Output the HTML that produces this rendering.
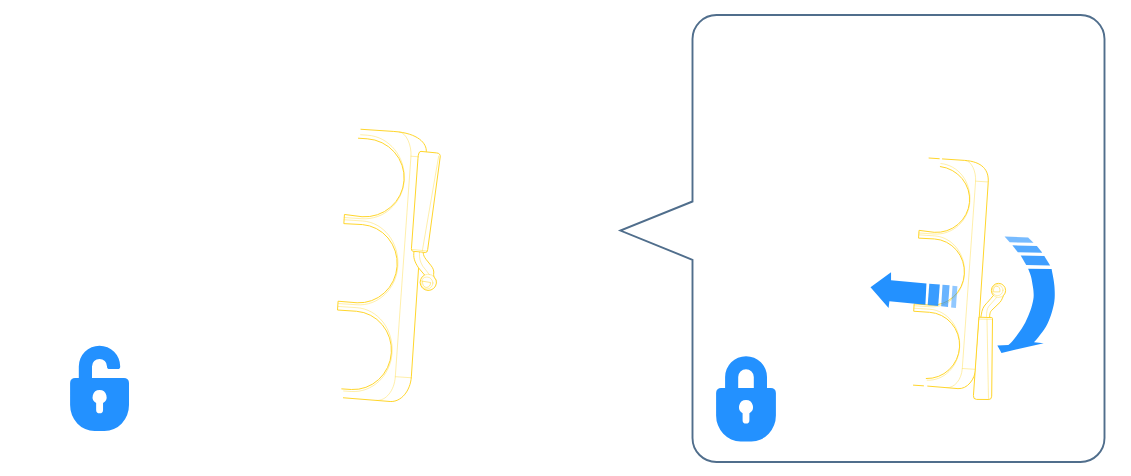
<!DOCTYPE html>
<html><head><meta charset="utf-8"><title>Lock illustration</title>
<style>
html,body{margin:0;padding:0;background:#fff;overflow:hidden}
svg{display:block}
</style></head>
<body>
<svg width="1131" height="476" viewBox="0 0 1131 476">
<rect width="1131" height="476" fill="#fff"/>

<!-- callout -->
<path d="M716.5,15.05 H1080.5 A24,24 0 0 1 1104.5,39.05 V438 A24,24 0 0 1 1080.5,462 H716.5 A24,24 0 0 1 692.5,438 V259.8 L620.4,230.6 L692.5,201.5 V39.05 A24,24 0 0 1 716.5,15.05 Z" fill="none" stroke="#506E8C" stroke-width="1.9" stroke-linejoin="miter"/>

<!-- open lock -->
<g fill="#2391FF">
<path d="M78.8,380 V366.4 A20.7,20.7 0 0 1 120.2,366.4 A2.6,2.6 0 0 1 117.6,369 H109.6 A2.6,2.6 0 0 1 107,366.4 A7.5,7.5 0 0 0 92,366.4 V380 Z"/>
<path fill-rule="evenodd" d="M75.1,377.9 H124 A5,5 0 0 1 129,382.9 V405 A24.5,26 0 0 1 104.5,431 H94.6 A24.5,26 0 0 1 70.1,405 V382.9 A5,5 0 0 1 75.1,377.9 Z
M99.6,390.1 A6.95,6.95 0 0 0 96.15,403.1 V409.9 A3.45,3.45 0 0 0 103.05,409.9 V403.1 A6.95,6.95 0 0 0 99.6,390.1 Z"/>
</g>

<!-- closed lock -->
<g fill="#2391FF">
<path d="M725.1,390 V377.1 A20.95,20.95 0 0 1 767,377.1 V390 H753.8 V377.1 A7.8,7.8 0 0 0 738.2,377.1 V390 Z"/>
<path fill-rule="evenodd" d="M721.1,387.9 H770.9 A5,5 0 0 1 775.9,392.9 V415.4 A24.5,26 0 0 1 751.4,441.4 H740.6 A24.5,26 0 0 1 716.1,415.4 V392.9 A5,5 0 0 1 721.1,387.9 Z
M746,400.1 A7,7 0 0 0 742.6,413.2 V420.2 A3.4,3.4 0 0 0 749.4,420.2 V413.2 A7,7 0 0 0 746,400.1 Z"/>
</g>

<!-- left clip -->
<g fill="none" stroke="#FFD62C" stroke-width="1.0" stroke-linecap="round" stroke-linejoin="round">
<path d="M360.93,129.27 L393.76,131.45 C418.38,133.08 426.83,143.56 426.30,151.65 L411.34,376.85 C410.39,391.18 400.90,402.21 390.16,401.50 L343.40,397.79"/>
<path d="M358.44,138.22 L367.22,138.80 A39.50,39.05 3.80 0 1 362.04,216.73 L344.45,214.46 L343.84,223.64 L362.32,224.57 A38.00,39.20 3.80 0 1 357.13,302.79 L338.09,301.23 L337.50,310.01 L356.56,311.28 A38.00,39.20 3.80 0 1 351.37,389.50 L341.79,388.87"/>
<g stroke-width="0.5" opacity="0.8">
<path d="M398.85,131.78 C406.40,132.29 411.68,145.38 410.96,156.24 L395.31,376.69 C394.40,390.42 386.07,401.05 376.70,400.43"/>
<path d="M410.96,156.24 L425.92,157.23"/>
<path d="M395.31,376.69 L411.28,377.75"/>
<path d="M360.67,134.76 L367.46,135.21 C389.33,136.66 405.80,156.89 404.24,180.40 C402.74,203.02 383.79,220.18 361.91,218.73 L344.25,217.55"/>
<path d="M344.10,219.75 L362.56,220.97 C383.61,222.37 399.41,242.63 397.84,266.21 C396.33,288.92 378.04,306.19 356.99,304.79 L338.53,303.56"/>
<path d="M338.34,306.46 L356.80,307.68 C377.85,309.08 393.65,329.33 392.08,352.92 C390.57,375.63 372.29,392.90 351.23,391.50 L343.65,391.00"/>
</g>
<!-- lever -->
<path d="M418,158 Q418.4,151.2 421,151.4 L436.5,152.9 Q440.7,153.3 440.2,157 L427.7,249.5 Q427.3,252.8 425.4,252.5 L413,251.3 Q411.2,251.1 411.4,249 Z" fill="#fff"/>
<g stroke-width="0.5" opacity="0.8"><path d="M438.7,156 L422.3,251"/><path d="M411.8,249.4 L427.2,251"/></g>
<!-- linkage -->
<path d="M413.9,252.2 C413.3,257 414,261 418.5,267.8 L424.6,275 A8.15,8.15 0 1 0 436.1,280 C434.5,278 433.6,276.5 433.6,274.6 C434.3,271 433.2,268.4 431.2,265.8 L426,259.3 C424.3,257 423.5,255.5 423.2,253.1" fill="#fff"/>
<path d="M419.4,253.1 C419.3,258 420,261.5 422.7,266.1 L429.4,274.6" stroke-width="0.5" opacity="0.8"/>
<path d="M424.6,275 A8.15,8.15 0 0 1 436.1,280" stroke-width="0.5" opacity="0.8"/>
<circle cx="426.9" cy="283" r="6" stroke-width="0.5" opacity="0.8"/>
<path d="M422.6,281.2 L430.5,282.5 C430.7,285.5 428.8,287.4 426.5,287.4 C424,287.4 422.2,285 422.6,281.2 Z" stroke-width="0.7" opacity="0.8"/>
</g>

<!-- right clip -->
<g fill="none" stroke="#FFD62C" stroke-width="1.0" stroke-linecap="round" stroke-linejoin="round">
<path d="M929.04,158.03 L939.25,158.71 M942.46,158.93 L964.24,160.37 C982.47,161.58 989.03,170.16 988.22,182.31 L975.90,367.77 C975.10,379.89 967.07,389.23 957.98,388.63 L927.71,386.11 M913.44,385.16 L923.49,385.83"/>
<path d="M940.34,166.55 A33.42,33.04 3.80 0 1 934.20,232.31 L919.06,230.37 L918.55,238.14 L934.43,238.94 A32.15,33.16 3.80 0 1 930.04,305.12 L914.18,303.81 L913.69,311.24 L929.56,312.30 A32.15,33.16 3.80 0 1 926.26,378.53 "/>
<g stroke-width="0.5" opacity="0.8">
<path d="M965.34,160.44 C971.72,160.87 976.19,171.95 975.58,181.13 L962.29,368.48 C961.55,379.63 954.52,388.24 946.60,387.72"/>
<path d="M975.58,181.13 L988.24,181.98"/>
<path d="M962.29,368.48 L975.79,369.37"/>
<path d="M940.88,163.57 C958.21,164.97 971.22,181.69 969.90,201.57 C968.63,220.71 952.59,235.23 934.08,234.00 L918.89,232.99"/>
<path d="M918.77,234.85 L934.64,235.90 C952.44,237.08 965.81,254.22 964.48,274.17 C963.21,293.38 947.73,307.99 929.93,306.81 L914.06,305.75"/>
<path d="M913.89,308.20 L929.76,309.26 C947.57,310.44 960.93,327.57 959.61,347.53 C958.33,366.74 943.83,381.07 927.17,380.22 "/>
</g>
<!-- linkage -->
<path d="M980.8,317.3 L981.3,314.9 C981.8,310 983.5,306.5 986,303.9 C987,303 990,299.5 993.4,295.4 A7.1,7.1 0 1 1 1003.6,295.4 C1002.6,297.5 1001.8,300.2 1000,302.3 L991.3,310.7 C990.5,311.6 990,313 989.7,315.4 L989.7,317.6" fill="#fff"/>
<path d="M996.5,297.6 L988.6,306.5 C987,309 986.5,312 986.5,316.5" stroke-width="0.5" opacity="0.8"/>
<path d="M993.4,295.4 A7.1,7.1 0 0 0 1003.6,295.4" stroke-width="0.5" opacity="0.8"/>
<circle cx="997.6" cy="290.2" r="5.4" stroke-width="0.5" opacity="0.8"/>
<path d="M993.6,291.5 C993.1,288 994.5,286.3 996.8,286.3 C999.2,286.3 1000.3,288.5 999.9,291.5 Z" stroke-width="0.7" opacity="0.8"/>
<!-- lever -->
<path d="M979.3,317.2 L991.8,317.6 Q992.6,317.7 992.5,318.5 L991.7,396.2 Q991.6,399.5 988.8,399.5 L976.5,399.4 Q973.1,399.3 973.4,396 Z" fill="#fff"/>
<g stroke-width="0.5" opacity="0.8"><path d="M987,319 L988.5,399.6"/><path d="M979.3,319.1 L992.3,319.3"/></g>
</g>

<!-- straight arrow -->
<g fill="#2391FF">
<path d="M870.5,287.3 L891.05,272.35 L891.05,280.2 L926.45,283.4 L925.4,304.7 L889.4,301.2 L888.6,307.9 Z"/>
<path d="M929.3,283.7 L939.8,284.4 L938.2,306 L927.7,304.9 Z" opacity="0.9"/>
<path d="M942.5,284.75 L949.55,285.3 L948,307 L941.15,306.2 Z" opacity="0.68"/>
<path d="M952.5,285.7 L957.4,286.2 L955.9,308.1 L951.1,307.5 Z" opacity="0.5"/>
</g>

<!-- curved arrow -->
<g fill="#2391FF">
<path d="M1004.55,236.5 L1028.1,237.5 L1033.5,242.65 L1009.7,242.35 Z" opacity="0.62"/>
<path d="M1012.35,245.3 L1036.9,246 L1042.35,252.65 L1017.8,252.2 Z" opacity="0.78"/>
<path d="M1020.7,255.4 L1044.3,255.9 L1050.15,265.4 L1026.2,265 Z" opacity="0.88"/>
<path d="M1051.60,269.10 C1051.97,271.07 1053.28,277.25 1053.80,280.90 C1054.32,284.55 1054.62,287.52 1054.70,291.00 C1054.78,294.48 1054.92,297.80 1054.30,301.80 C1053.68,305.80 1052.40,310.83 1051.00,315.00 C1049.60,319.17 1047.98,323.12 1045.90,326.80 C1043.82,330.48 1040.47,334.53 1038.50,337.10 C1036.53,339.67 1034.83,341.35 1034.10,342.20 L1043.7,343.2 L1001.5,352.9 L997.35,345.6 L1008.4,345.1 C1009.02,344.50 1010.52,343.33 1012.10,341.50 C1013.68,339.67 1015.70,337.28 1017.90,334.10 C1020.10,330.92 1023.22,326.32 1025.30,322.40 C1027.38,318.48 1029.07,314.42 1030.40,310.60 C1031.73,306.78 1032.77,302.43 1033.30,299.50 C1033.83,296.57 1033.67,295.12 1033.60,293.00 C1033.53,290.88 1033.33,289.55 1032.90,286.80 C1032.47,284.05 1031.80,279.50 1031.00,276.50 C1030.20,273.50 1028.58,270.08 1028.10,268.80 Z"/>
</g>
</svg>
</body></html>
